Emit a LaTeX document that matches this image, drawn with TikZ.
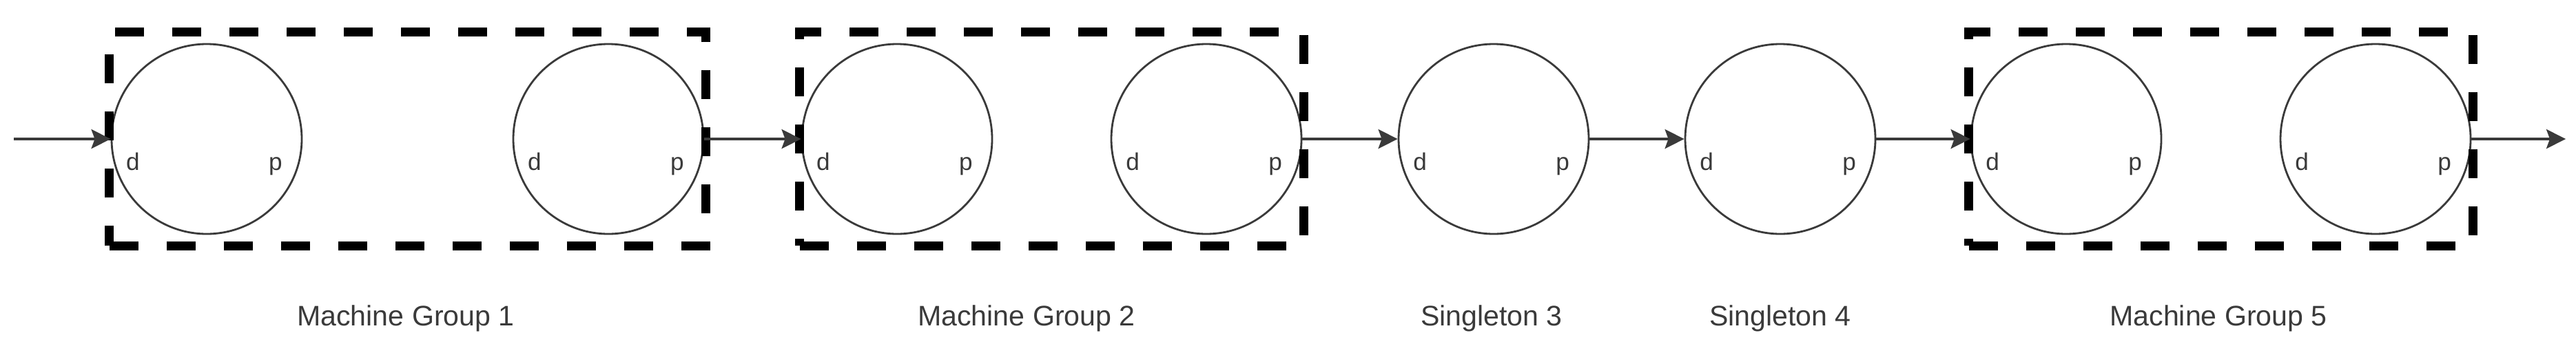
\documentclass[tikz,border=0pt]{standalone}
\usepackage{fontspec}
\setmainfont{Liberation Sans}
\usetikzlibrary{positioning}
\usetikzlibrary{fit}
\usetikzlibrary{arrows.meta}
\definecolor{wire}{HTML}{3A3A3A}
\definecolor{groupline}{HTML}{000000}

\begin{document}
\begin{tikzpicture}[
		machine/.style={draw=wire, line width=0.8pt, circle, minimum size=2.76cm, inner sep=0pt},
		port/.style={font=\fontsize{10}{11}\selectfont, color=wire, anchor=base, inner sep=0pt},
		group/.style={draw=groupline, line width=3.6pt, dash pattern=on 0.42cm off 0.41cm, inner xsep=0.02cm, inner ysep=0.16cm},
		flow/.style={draw=wire, line width=1.1pt, -{Stealth[length=0.28cm,width=0.28cm,inset=0.05cm]}},
		caption/.style={font=\fontsize{11.7}{13}\selectfont, color=wire, anchor=base}]
		\useasboundingbox (0,0) rectangle (37.39,-4.99);
		\begin{scope}
			% machines with their d and p ends
			\foreach \n/\x in {1/3.00,2/8.83,3/13.02,4/17.51,5/21.68,6/25.84,7/29.99,8/34.48}{
				\node[machine] (m\n) at (\x,-2.02) {};
				\node[port] (d\n) at ([xshift=-1.07cm,yshift=-0.45cm]m\n.center) {d};
				\node[port] (p\n) at ([xshift=1.00cm,yshift=-0.45cm]m\n.center) {p};
			}
			%
			\node[group, fit=(m1)(m2)] (g1) {};
			\node[group, fit=(m3)(m4)] (g2) {};
			\node[group, fit=(m7)(m8)] (g5) {};
		\end{scope}
		\begin{scope}
			\coordinate (src) at (0.20,-2.02);
			\coordinate (sink) at (37.24,-2.02);
			%
			\draw[flow] (src) -- (m1);
			\draw[flow] (m2) -- (m3);
			\draw[flow] (m4) -- (m5);
			\draw[flow] (m5) -- (m6);
			\draw[flow] (m6) -- (m7);
			\draw[flow] (m8) -- (sink);
		\end{scope}
		\begin{scope}
			\node[caption] (cap1) at (5.89,-4.73) {Machine Group 1};
			\node[caption] (cap2) at (14.90,-4.73) {Machine Group 2};
			\node[caption] (cap3) at (21.65,-4.73) {Singleton 3};
			\node[caption] (cap4) at (25.84,-4.73) {Singleton 4};
			\node[caption] (cap5) at (32.20,-4.73) {Machine Group 5};
		\end{scope}
	\end{tikzpicture}
\end{document}
